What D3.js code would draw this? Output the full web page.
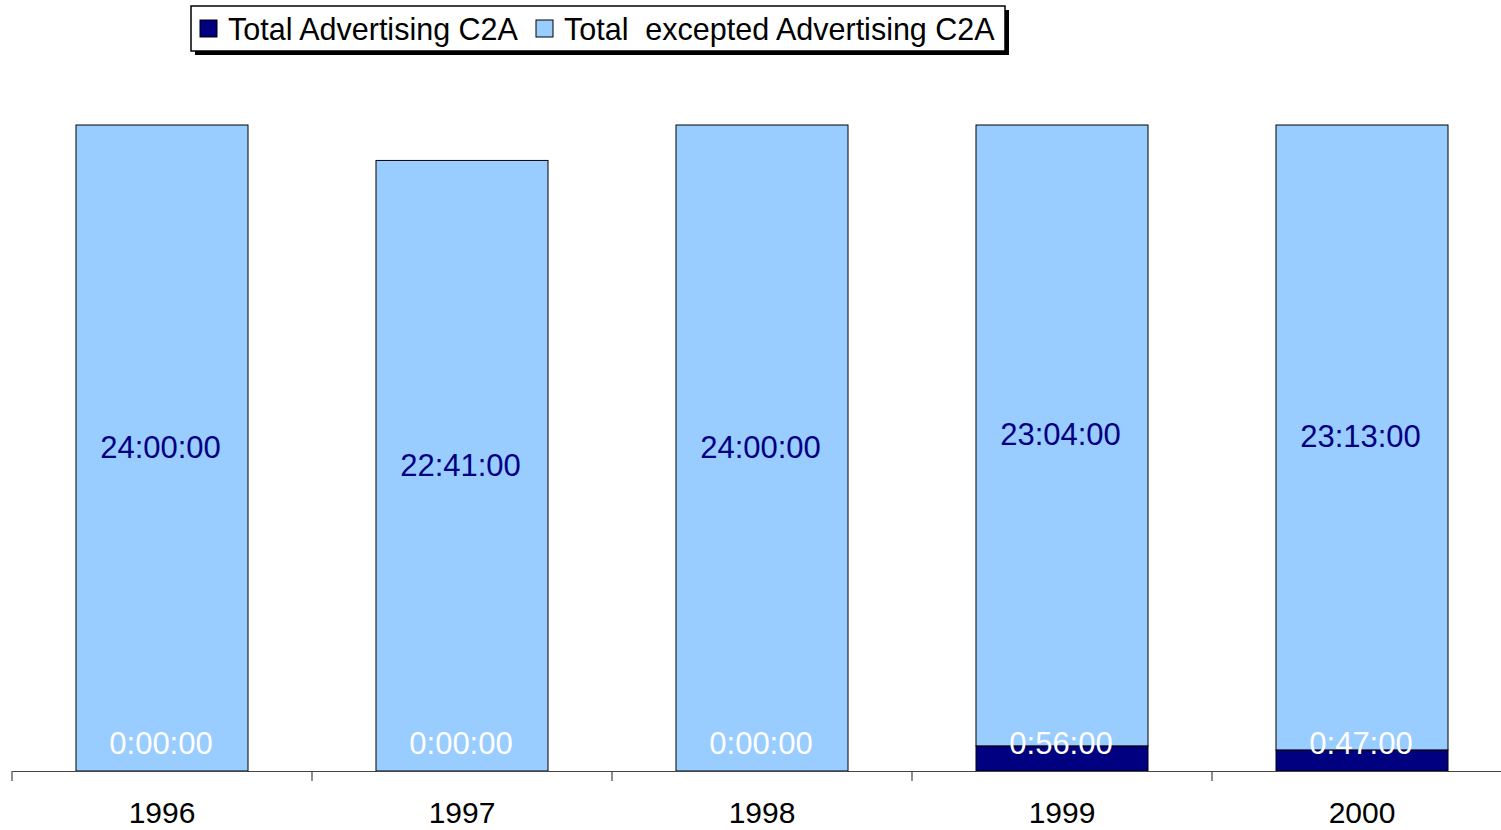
<!DOCTYPE html>
<html>
<head>
<meta charset="utf-8">
<script src="https://cdn.jsdelivr.net/npm/d3@7"></script>
<style>
html,body{margin:0;padding:0;background:#fff;}
svg{display:block;font-family:"Liberation Sans",Arial,sans-serif;}
</style>
</head>
<body>
<svg id="chart" width="1501" height="830"></svg>
<script>
// Data (minutes)
const categories = ["1996", "1997", "1998", "1999", "2000"];
const advertising = [0, 0, 0, 56, 47];
const excepted = [1440, 1361, 1440, 1384, 1393];
const seriesNames = ["Total Advertising C2A", "Total  excepted Advertising C2A"];
const seriesColors = ["#000080", "#99CCFF"];

function fmt(m) {
  const h = Math.floor(m / 60), mm = m % 60;
  return h + ":" + String(mm).padStart(2, "0") + ":00";
}

const svg = d3.select("#chart");
const x = d3.scaleBand().domain(categories).range([12, 1512]).paddingInner(0).paddingOuter(0);
const barW = 172;
const y = d3.scaleLinear().domain([0, 1440]).range([771, 125]);

const rows = categories.map((c, i) => ({cat: c, a: advertising[i], e: excepted[i]}));
const stack = d3.stack().keys(["a", "e"])(rows);

const g = svg.append("g");
stack.forEach((layer, li) => {
  g.selectAll(null).data(layer).enter().append("rect")
    .attr("x", d => x(d.data.cat) + (x.bandwidth() - barW) / 2)
    .attr("y", d => y(d[1]))
    .attr("width", barW)
    .attr("height", d => y(d[0]) - y(d[1]))
    .attr("fill", seriesColors[li])
    .attr("stroke", "#000")
    .attr("stroke-width", 1);
});

// Axis
const axis = d3.axisBottom(x).tickSize(0).tickPadding(0).tickFormat("");
const ax = svg.append("g").attr("transform", "translate(0,771)").call(axis);
ax.select(".domain").attr("stroke", "#444").attr("stroke-width", 1.2);
ax.selectAll(".tick").remove();
const bounds = d3.range(categories.length + 1).map(i => 12 + i * x.bandwidth());
svg.selectAll(null).data(bounds).enter().append("line")
  .attr("x1", d => d).attr("x2", d => d)
  .attr("y1", 771).attr("y2", 781)
  .attr("stroke", "#444").attr("stroke-width", 1.2);
svg.selectAll(null).data(categories).enter().append("text")
  .attr("x", d => x(d) + x.bandwidth() / 2)
  .attr("y", 823)
  .attr("text-anchor", "middle")
  .attr("font-size", 30)
  .attr("fill", "#000")
  .text(d => d);

// Data labels
svg.selectAll(null).data(stack[1]).enter().append("text")
  .attr("x", d => x(d.data.cat) + x.bandwidth() / 2 - 1.5)
  .attr("y", d => (y(d[0]) + y(d[1])) / 2 + 10)
  .attr("text-anchor", "middle")
  .attr("font-size", 31)
  .attr("fill", "#000080")
  .text(d => fmt(d.data.e));
svg.selectAll(null).data(stack[0]).enter().append("text")
  .attr("x", d => x(d.data.cat) + x.bandwidth() / 2 - 1)
  .attr("y", 754)
  .attr("text-anchor", "middle")
  .attr("font-size", 31)
  .attr("fill", "#fff")
  .text(d => fmt(d.data.a));

// Legend
const lg = svg.append("g");
lg.append("rect").attr("x", 195).attr("y", 10).attr("width", 814).attr("height", 45).attr("fill", "#000");
lg.append("rect").attr("x", 191).attr("y", 6).attr("width", 814).attr("height", 45).attr("fill", "#fff").attr("stroke", "#000").attr("stroke-width", 1.5);
const legendX = [200, 536];
seriesNames.forEach((n, i) => {
  lg.append("rect").attr("x", legendX[i]).attr("y", 20).attr("width", 17).attr("height", 17)
    .attr("fill", seriesColors[i]).attr("stroke", "#000").attr("stroke-width", 1);
  lg.append("text").attr("x", legendX[i] + 28).attr("y", 40)
    .attr("font-size", 30.5).attr("fill", "#000").attr("xml:space", "preserve")
    .style("white-space", "pre")
    .text(n);
});
</script>
</body>
</html>
